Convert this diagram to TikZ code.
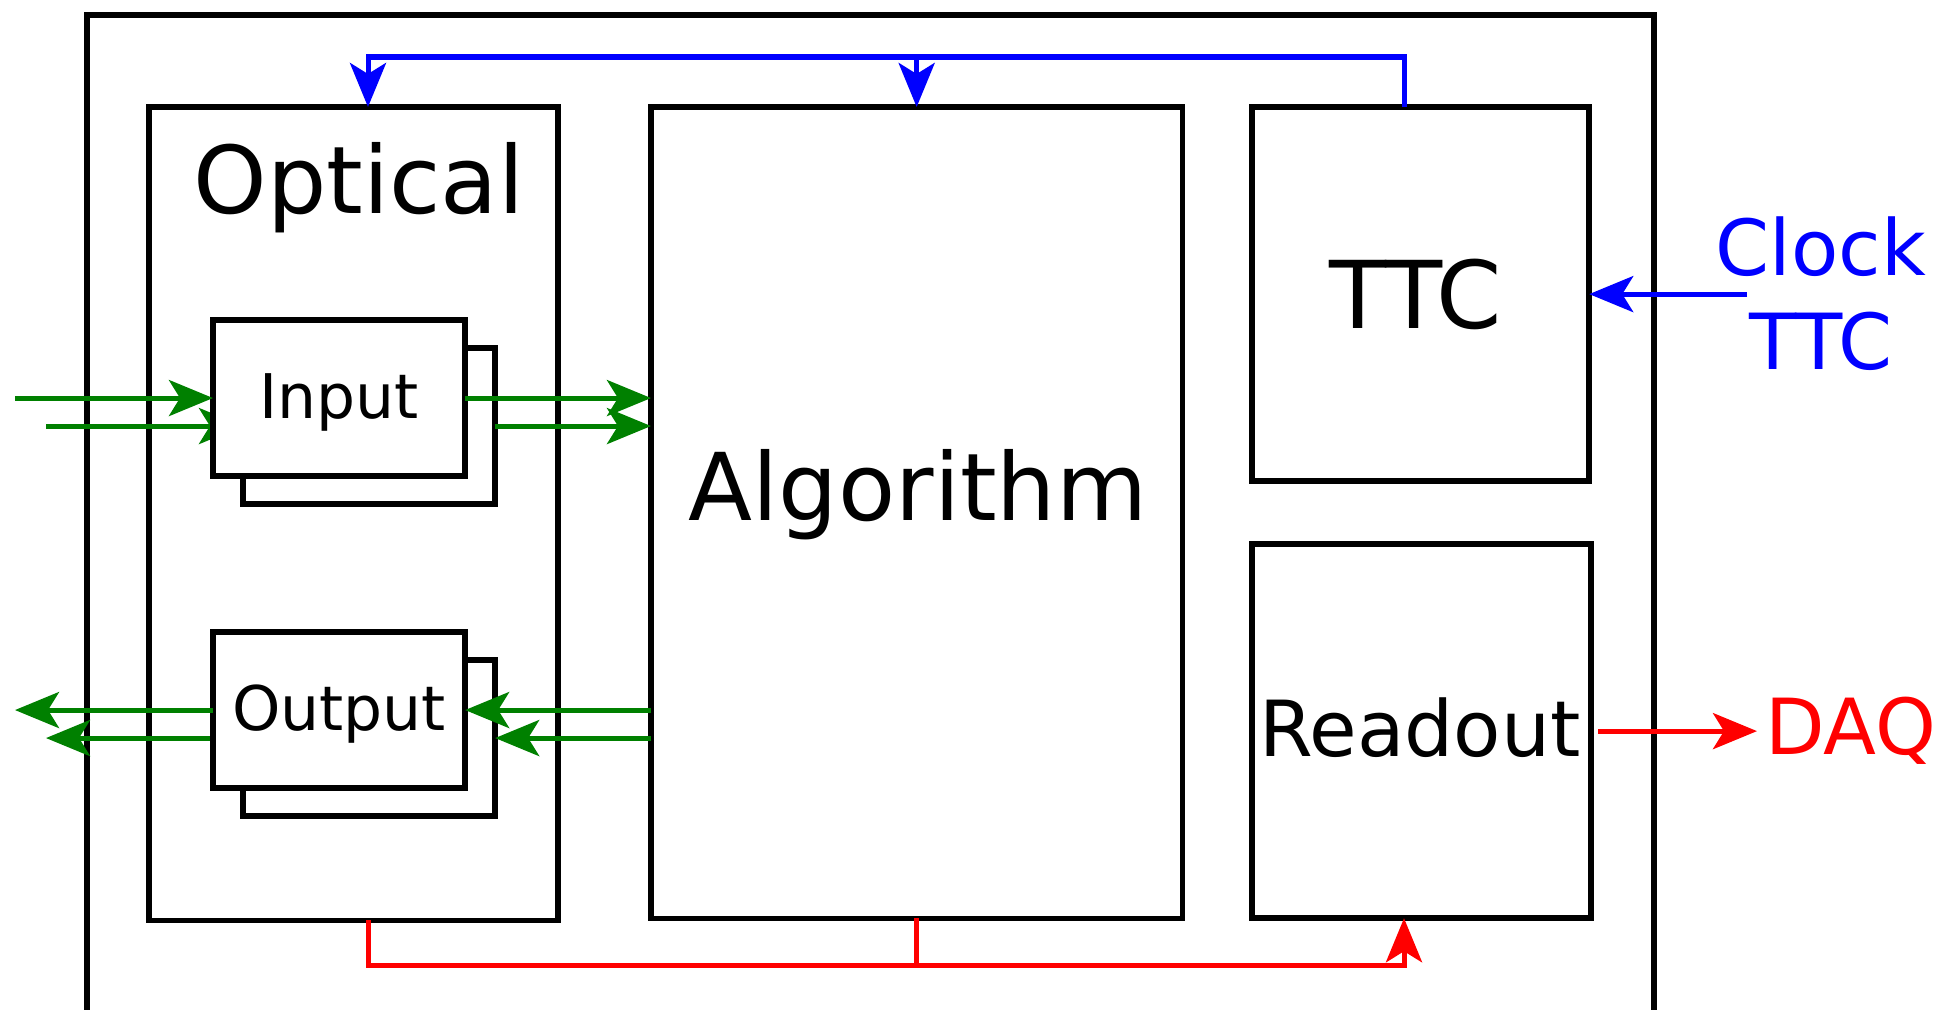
\documentclass[tikz,border=0pt]{standalone}
\usepackage{fontspec}
\setmainfont{DejaVu Sans}
\usepackage{tikz}
\usetikzlibrary{positioning,arrows.meta,calc}
\definecolor{clkblue}{HTML}{0000FF}
\definecolor{datagreen}{HTML}{008000}
\definecolor{daqred}{HTML}{FF0000}

\begin{document}
\begin{tikzpicture}[x=0.01cm,y=-0.01cm,
  blk/.style={draw,line width=0.055cm,inner sep=0pt,outer sep=0pt,anchor=north west},
  card/.style={blk,fill=white,minimum width=2.52cm,minimum height=1.56cm,text depth=0.12em},
  wire/.style={line width=0.05cm},
  link/.style={wire,-{Stealth[length=0.44cm,width=0.36cm,inset=0.11cm]}},
  big/.style={font=\fontsize{26.6}{31}\selectfont},
  mid/.style={font=\fontsize{22}{26.7}\selectfont},
  small/.style={font=\fontsize{17.5}{21}\selectfont}]
\useasboundingbox (0,0) rectangle (1943,1009);
% board frame, runs off the bottom
\draw[line width=0.055cm] (87,1040) |- (1654,15) -- (1654,1040);
% helper coordinates
\coordinate (farL) at (15,0);
\coordinate (nearL) at (46,0);
\coordinate (tapL) at (368,0);
\coordinate (tapR) at (1404,0);
\coordinate (clkbus) at (0,57);
\coordinate (rdbus) at (0,965);
\coordinate (clkin) at (1747,0);

\node[blk,minimum width=4.09cm,minimum height=8.13cm] (optical) at (149,107) {};
\node[blk,minimum width=5.31cm,minimum height=8.11cm] (algo) at (651,107) {};
\node[blk,minimum width=3.37cm,minimum height=3.74cm] (ttc) at (1252,107) {};
\node[blk,minimum width=3.39cm,minimum height=3.74cm] (readout) at (1252,544) {};

\node[big,anchor=base] (opticaltxt) at (359,213) {Optical};
\node[big,anchor=base] (algotxt) at (918,520) {Algorithm};
\node[big,anchor=base] (ttctxt) at (1416,328) {TTC};
\node[mid,anchor=base] (readouttxt) at (1420,756) {Readout};

% second card of each pair sits behind
\node[card] (inback) at (243,348) {};
\node[card] (outback) at (243,660) {};
\draw[link,datagreen] (nearL |- inback.west) -- (inback.west);
\draw[link,datagreen] (outback.west) -- (nearL |- outback.west);
\node[card,small] (infront) at (213,320) {Input};
\node[card,small] (outfront) at (213,632) {Output};

\draw[link,datagreen] (farL |- infront.west) -- (infront.west);
\draw[link,datagreen] (outfront.west) -- (farL |- outfront.west);
\draw[link,datagreen] (infront.east) -- (infront.east -| algo.west);
\draw[link,datagreen] (inback.east) -- (inback.east -| algo.west);
\draw[link,datagreen] (algo.west |- outfront.east) -- (outfront.east);
\draw[link,datagreen] (algo.west |- outback.east) -- (outback.east);

% clock distribution
\draw[link,clkblue] (ttc.north -| tapR) |- (clkbus -| tapL) -- (optical.north -| tapL);
\draw[link,clkblue] (clkbus -| algo.north) -- (algo.north);
\node[mid,text=clkblue,align=center,anchor=base] (clock) at (1821,369) {Clock\\TTC};
\draw[link,clkblue] (clkin |- ttc.east) -- (ttc.east);

% readout path
\draw[link,daqred] (optical.south -| tapL) |- (rdbus -| tapR) -- (readout.south -| tapR);
\draw[wire,daqred] (algo.south) -- (algo.south |- rdbus);
\node[mid,text=daqred,anchor=west,inner sep=0.08cm] (daq) at (1757,731) {DAQ};
\draw[link,daqred] ([xshift=0.07cm]readout.east) -- (readout.east -| daq.west);
\end{tikzpicture}
\end{document}
